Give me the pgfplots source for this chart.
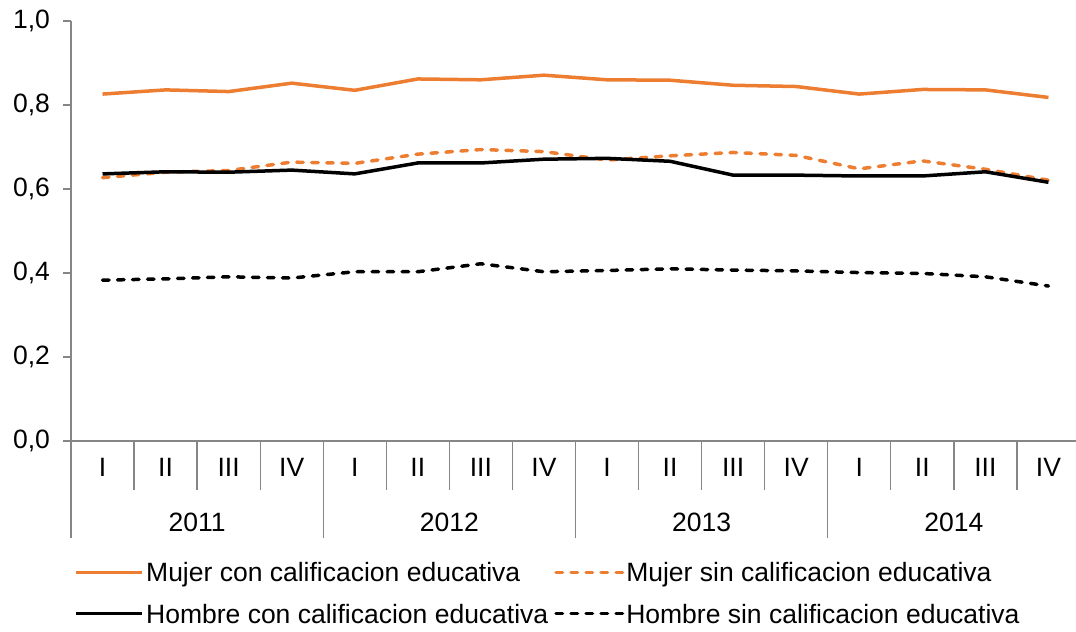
\documentclass[border=0pt]{standalone}
\usepackage{fontspec}
\setmainfont{Liberation Sans}
\usepackage{pgfplots}
\pgfplotsset{compat=1.18}
\definecolor{morange}{RGB}{237,125,49}
\definecolor{axgray}{RGB}{134,134,134}
\begin{document}
\fontsize{26.5bp}{31bp}\selectfont
\begin{tikzpicture}
\begin{axis}[
  at={(71bp,-441bp)}, anchor=south west,
  scale only axis, width=1009bp, height=420bp,
  xmin=0, xmax=16, ymin=0, ymax=1,
  clip=false,
  axis x line*=bottom, axis y line*=left,
  axis line style={axgray, line width=1.3bp},
  tick align=outside,
  major tick length=8bp,
  minor tick length=49bp,
  ytick={0,0.2,0.4,0.6,0.8,1},
  ytick style={axgray, line width=1.3bp},
  yticklabel style={xshift=-4bp, /pgf/number format/.cd, fixed, fixed zerofill, precision=1, use comma, assume math mode=true},
  xtick={0.5,1.5,2.5,3.5,4.5,5.5,6.5,7.5,8.5,9.5,10.5,11.5,12.5,13.5,14.5,15.5},
  xticklabels={I,II,III,IV,I,II,III,IV,I,II,III,IV,I,II,III,IV},
  xtick style={draw=none},
  minor xtick={1,2,3,5,6,7,9,10,11,13,14,15},
  minor x tick style={draw=axgray, line width=1.3bp},
  extra x ticks={0,4,8,12,16},
  extra x tick labels={},
  extra x tick style={major tick length=97bp, xtick style={draw=axgray, line width=1.3bp}},
  legend columns=2,
  legend cell align=left,
  legend image code/.code={\draw[#1] (1.75bp,0bp) -- (68.25bp,0bp);},
  legend style={at={(axis description cs:0,-0.28)}, anchor=north west, draw=none, fill=none,
    /tikz/every even column/.append style={column sep=4bp}, row sep=18bp,
    nodes={text depth=0pt}, font=\fontsize{26.5bp}{31bp}\selectfont},
]
\addplot[morange, line width=3.5bp, line join=round] coordinates {
(0.5,0.826) (1.5,0.836) (2.5,0.832) (3.5,0.852) (4.5,0.835) (5.5,0.862) (6.5,0.860) (7.5,0.871)
(8.5,0.860) (9.5,0.859) (10.5,0.847) (11.5,0.844) (12.5,0.826) (13.5,0.837) (14.5,0.836) (15.5,0.818)};
\addlegendentry{Mujer con calificacion educativa}
\addplot[morange, line width=3.5bp, line cap=round, dash pattern=on 6.5bp off 8.5bp] coordinates {
(0.5,0.627) (1.5,0.640) (2.5,0.644) (3.5,0.664) (4.5,0.661) (5.5,0.683) (6.5,0.694) (7.5,0.689)
(8.5,0.669) (9.5,0.679) (10.5,0.687) (11.5,0.680) (12.5,0.648) (13.5,0.667) (14.5,0.647) (15.5,0.621)};
\addlegendentry{Mujer sin calificacion educativa}
\addplot[black, line width=3.5bp, line join=round] coordinates {
(0.5,0.636) (1.5,0.641) (2.5,0.640) (3.5,0.645) (4.5,0.636) (5.5,0.662) (6.5,0.662) (7.5,0.671)
(8.5,0.673) (9.5,0.666) (10.5,0.633) (11.5,0.633) (12.5,0.631) (13.5,0.631) (14.5,0.641) (15.5,0.616)};
\addlegendentry{Hombre con calificacion educativa}
\addplot[black, line width=3.5bp, line cap=round, dash pattern=on 6.5bp off 8.5bp] coordinates {
(0.5,0.383) (1.5,0.386) (2.5,0.391) (3.5,0.388) (4.5,0.403) (5.5,0.403) (6.5,0.422) (7.5,0.403)
(8.5,0.406) (9.5,0.410) (10.5,0.407) (11.5,0.405) (12.5,0.401) (13.5,0.399) (14.5,0.391) (15.5,0.369)};
\addlegendentry{Hombre sin calificacion educativa}
\node[yshift=-81bp] at (axis cs:2,0) {2011};
\node[yshift=-81bp] at (axis cs:6,0) {2012};
\node[yshift=-81bp] at (axis cs:10,0) {2013};
\node[yshift=-81bp] at (axis cs:14,0) {2014};
\end{axis}
\pgfresetboundingbox
\path[use as bounding box] (0,0) rectangle (1076bp,-632bp);
\end{tikzpicture}
\end{document}
